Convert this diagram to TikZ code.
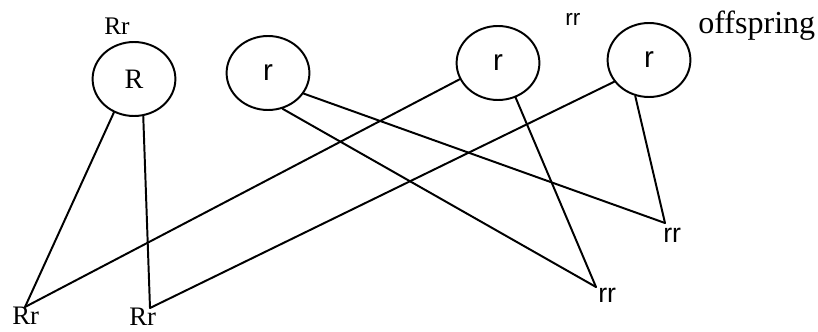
\documentclass[tikz,border=0pt]{standalone}
\usepackage{fontspec}
\setmainfont{Liberation Serif}
\newfontfamily\sansfam{Liberation Sans}
\usetikzlibrary{shapes.geometric}

\tikzset{
  gamete/.style={ellipse, draw, line width=1.4pt, minimum width=2.07cm, minimum height=1.85cm, inner sep=0pt},
  serlab/.style={anchor=base west, inner sep=0pt, font=\fontsize{19}{19}\selectfont},
  sanlab/.style={anchor=base west, inner sep=0pt, font=\sansfam\fontsize{19}{19}\selectfont},
  cross/.style={line width=1.4pt, line cap=round, line join=round}
}

\begin{document}
\begin{tikzpicture}
  \useasboundingbox (0,0) rectangle (20.45,8.275);

  % parent gametes
  \node[gamete, font=\fontsize{20}{20}\selectfont] (R) at (3.35,6.3) {R};
  \node[gamete, font=\sansfam\fontsize{21}{21}\selectfont] (ra) at (6.7,6.45) {r};
  \node[gamete, font=\sansfam\fontsize{21}{21}\selectfont] (rb) at (12.45,6.7) {r};
  \node[gamete, font=\sansfam\fontsize{21}{21}\selectfont] (rc) at (16.225,6.775) {r};

  % headings
  \node[serlab, font=\fontsize{18}{18}\selectfont] (topRr) at (2.6,7.425) {Rr};
  \node[sanlab, font=\sansfam\fontsize{16}{16}\selectfont] (toprr) at (14.125,7.65) {rr};
  \node[serlab, font=\fontsize{22.8}{22.8}\selectfont] (offs) at (17.45,7.45) {offspring};

  % offspring ends
  \coordinate (Rr1) at (0.625,0.6);
  \coordinate (Rr2) at (3.75,0.575);
  \coordinate (rr1) at (14.9,1.1);
  \coordinate (rr2) at (16.625,2.7);

  \node[serlab] (lRr1) at (0.3,0.17) {Rr};
  \node[serlab] (lRr2) at (3.225,0.14) {Rr};
  \node[sanlab] (lrr1) at (14.95,0.725) {rr};
  \node[sanlab] (lrr2) at (16.575,2.225) {rr};

  \begin{scope}[cross]
    \draw (R.239) -- (Rr1); \draw (R.284) -- (Rr2);
    \draw (ra.330) -- (rr2); \draw (ra.292) -- (rr1);
    \draw (rb.203) -- (Rr1); \draw (rb.297) -- (rr1);
    \draw (rc.212) -- (Rr2); \draw (rc.249) -- (rr2);
  \end{scope}
\end{tikzpicture}
\end{document}
